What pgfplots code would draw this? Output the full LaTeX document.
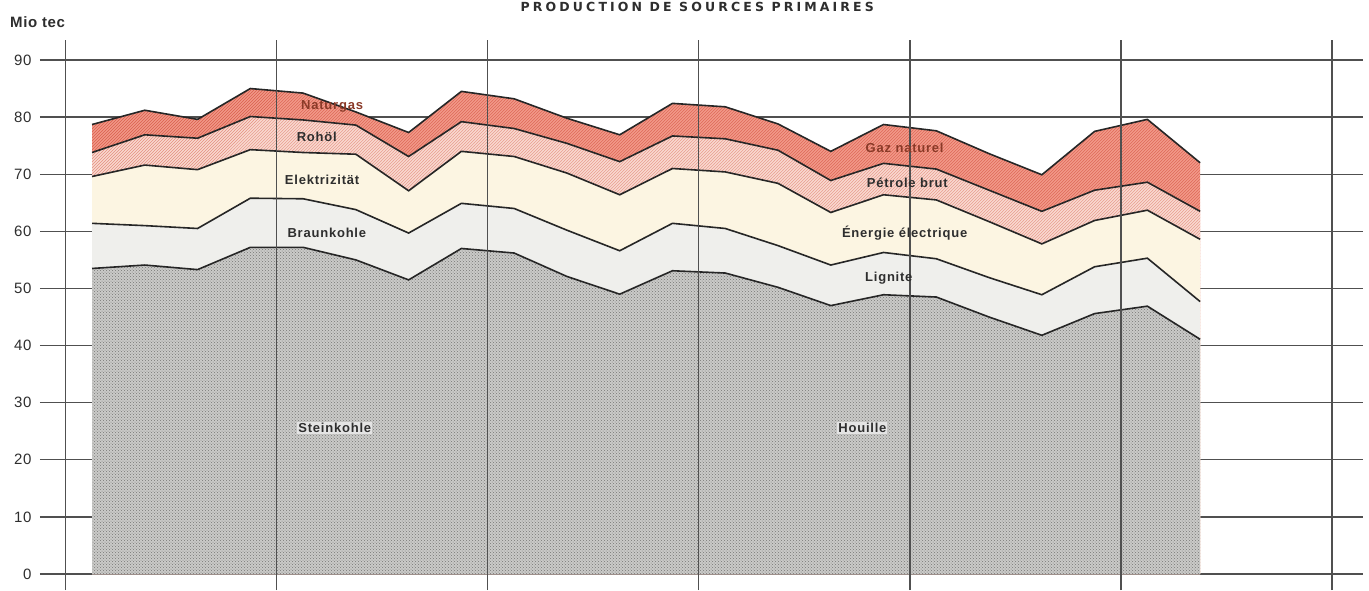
\documentclass[border=0pt]{standalone}
\usepackage{fontspec}
\setmainfont{Liberation Sans}
\newfontfamily\labelfont[LetterSpace=6]{Liberation Sans}
\newfontfamily\ticklabfont[LetterSpace=4]{Liberation Sans}
\newfontfamily\titlefont[LetterSpace=25]{DejaVu Sans}
\usepackage{pgfplots}
\pgfplotsset{compat=1.18}
\usepackage{pgfplotstable}
\usetikzlibrary{patterns}

\definecolor{gasfill}{HTML}{F29888}
\definecolor{gaspat}{HTML}{D95F4D}
\definecolor{oilfill}{HTML}{F9D8D0}
\definecolor{oilpat}{HTML}{E4907F}
\definecolor{elfill}{HTML}{FCF5E2}
\definecolor{ligfill}{HTML}{EFEFEC}
\definecolor{coalfill}{HTML}{CACAC8}
\definecolor{coalpat}{HTML}{767674}
\definecolor{gridc}{HTML}{505050}
\definecolor{txt}{HTML}{2E2E2E}
\definecolor{gastxt}{HTML}{8A3A28}

% cumulative boundaries: E = Steinkohle, D = +Braunkohle, C = +Elektrizitaet, B = +Rohoel, A = +Naturgas
\pgfplotstableread{
i  E    D    C    B    A
0  53.5 61.4 69.6 73.8 78.7
1  54.1 61.0 71.6 76.9 81.2
2  53.3 60.5 70.8 76.3 79.6
3  57.2 65.8 74.3 80.1 85.0
4  57.2 65.7 73.8 79.5 84.2
5  55.0 63.8 73.5 78.6 80.9
6  51.5 59.7 67.1 73.1 77.3
7  57.0 64.9 74.0 79.2 84.5
8  56.2 64.0 73.1 78.0 83.2
9  52.1 60.2 70.2 75.4 79.8
10 49.0 56.6 66.4 72.2 76.9
11 53.1 61.4 71.0 76.7 82.4
12 52.7 60.5 70.4 76.2 81.8
13 50.2 57.5 68.4 74.2 78.8
14 47.0 54.1 63.3 68.9 74.0
15 48.9 56.3 66.4 71.9 78.7
16 48.5 55.2 65.5 70.9 77.6
17 45.0 51.9 61.7 67.2 73.6
18 41.8 48.9 57.8 63.5 69.9
19 45.6 53.8 61.9 67.2 77.5
20 46.9 55.3 63.7 68.6 79.6
21 41.1 47.7 58.6 63.5 72.0
}\datatable

\begin{document}
\begin{tikzpicture}
\begin{axis}[
  scale only axis,
  width=1323pt, height=550pt,
  xmin=-0.986, xmax=24.09,
  ymin=-2.8, ymax=93.5,
  axis line style={draw=none},
  xtick=\empty,
  ytick={0,10,...,90},
  ymajorgrids,
  grid style={gridc, line width=1.2pt},
  major tick length=0pt,
  /pgf/number format/assume math mode=true,
  yticklabel style={font=\ticklabfont\fontsize{15}{15}\selectfont, text=txt, xshift=-5pt},
  clip=false,
]
\addplot[draw=none, fill=gasfill, postaction={pattern=north east lines, pattern color=gaspat}] table[x=i,y=A]{\datatable} \closedcycle;
\addplot[draw=none, fill=oilfill, postaction={pattern=north east lines, pattern color=oilpat}] table[x=i,y=B]{\datatable} \closedcycle;
\addplot[draw=none, fill=elfill] table[x=i,y=C]{\datatable} \closedcycle;
\addplot[draw=none, fill=ligfill] table[x=i,y=D]{\datatable} \closedcycle;
\addplot[draw=none, fill=coalfill, postaction={pattern=crosshatch dots, pattern color=coalpat}] table[x=i,y=E]{\datatable} \closedcycle;

\addplot[black!85, line width=1.6pt, mark=none] table[x=i,y=A]{\datatable};
\addplot[black!85, line width=1.6pt, mark=none] table[x=i,y=B]{\datatable};
\addplot[black!85, line width=1.6pt, mark=none] table[x=i,y=C]{\datatable};
\addplot[black!85, line width=1.6pt, mark=none] table[x=i,y=D]{\datatable};
\addplot[black!85, line width=1.6pt, mark=none] table[x=i,y=E]{\datatable};

\pgfplotsinvokeforeach{-0.5,3.5,7.5,11.5,15.5,19.5,23.5}{
  \draw[gridc, line width=1.2pt] (axis cs:#1,-2.8) -- (axis cs:#1,93.5);
}

\tikzset{lab/.style={font=\labelfont\bfseries\fontsize{13}{13}\selectfont, text=txt, inner sep=1pt}}
\node[lab] at (axis cs:4.6,25.6) [fill=coalfill!50] {Steinkohle};
\node[lab] at (axis cs:14.6,25.6) [fill=coalfill!50] {Houille};
\node[lab] at (axis cs:4.45,59.8) {Braunkohle};
\node[lab] at (axis cs:15.1,51.8) {Lignite};
\node[lab] at (axis cs:4.36,69.0) {Elektrizität};
\node[lab] at (axis cs:15.4,59.7) {Énergie électrique};
\node[lab] at (axis cs:4.26,76.5) {Rohöl};
\node[lab] at (axis cs:15.45,68.5) {Pétrole brut};
\node[lab, text=gastxt] at (axis cs:4.55,81.8) {Naturgas};
\node[lab, text=gastxt] at (axis cs:15.4,74.6) {Gaz naturel};

\node[anchor=base west, inner sep=0pt, font=\ticklabfont\bfseries\fontsize{15}{15}\selectfont, text=txt] at (axis cs:-1.554,95.6) {Mio tec};
\node[anchor=base, inner sep=0pt, font=\titlefont\bfseries\fontsize{12.5}{12.5}\selectfont, text=txt] at (axis cs:11.47,98.5) {PRODUCTION DE SOURCES PRIMAIRES};

\coordinate (bbl) at (axis cs:-1.744,-2.8);
\coordinate (btr) at (axis cs:24.20,100.5);
\end{axis}
\pgfresetboundingbox
\path[use as bounding box] (bbl) rectangle (btr);
\end{tikzpicture}
\end{document}
